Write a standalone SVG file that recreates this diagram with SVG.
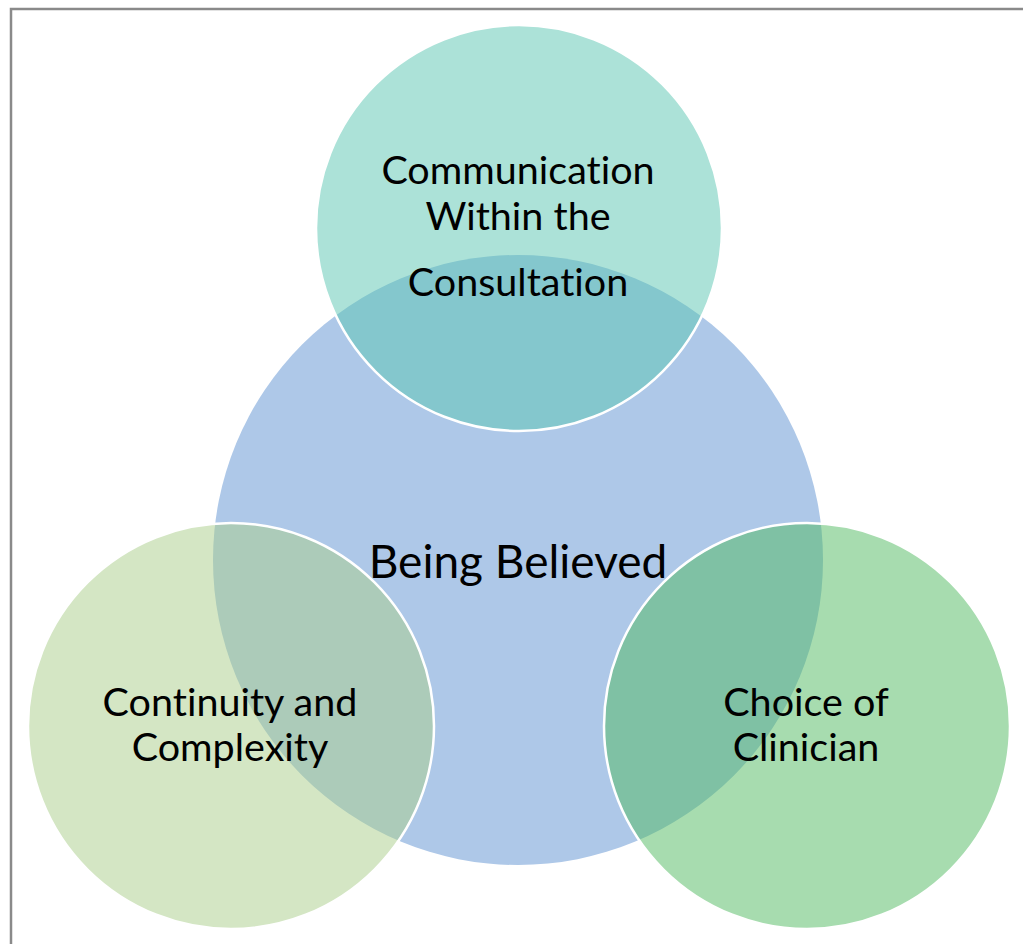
<svg xmlns="http://www.w3.org/2000/svg" width="1023" height="944" viewBox="0 0 1023 944">
<style>
.c{stroke:#ffffff;stroke-width:2.5}
.t{font-family:Lato,"Open Sans","Liberation Sans",sans-serif;fill:#000;text-anchor:middle;font-variant-ligatures:none;font-feature-settings:"liga" 0}
.s{font-size:39.5px}
.b{font-size:46px}
</style>
<rect x="0" y="0" width="1023" height="944" fill="#ffffff"/>
<path d="M11 944 V9 H1023" fill="none" stroke="#8a8a8a" stroke-width="2.5"/>
<g id="being-believed">
<circle cx="518" cy="560" r="305" fill="#aec8e8"/>
</g>
<g id="communication">
<circle class="c" cx="519" cy="228" r="203" fill="#59c5b1" fill-opacity="0.5"/>
</g>
<g id="continuity">
<circle class="c" cx="231" cy="726" r="203" fill="#a9cd89" fill-opacity="0.5"/>
</g>
<g id="choice">
<circle class="c" cx="807" cy="726" r="203" fill="#4fb95f" fill-opacity="0.5"/>
</g>
<g id="connectors"></g>
<g id="labels">
<text class="t s" x="518" y="184">Communication</text>
<text class="t s" x="518" y="230">Within the</text>
<text class="t s" x="518" y="296">Consultation</text>
<text class="t b" x="518" y="578">Being Believed</text>
<text class="t s" x="230" y="716">Continuity and</text>
<text class="t s" x="230" y="761">Complexity</text>
<text class="t s" x="806" y="716">Choice of</text>
<text class="t s" x="806" y="761">Clinician</text>
</g>
</svg>
